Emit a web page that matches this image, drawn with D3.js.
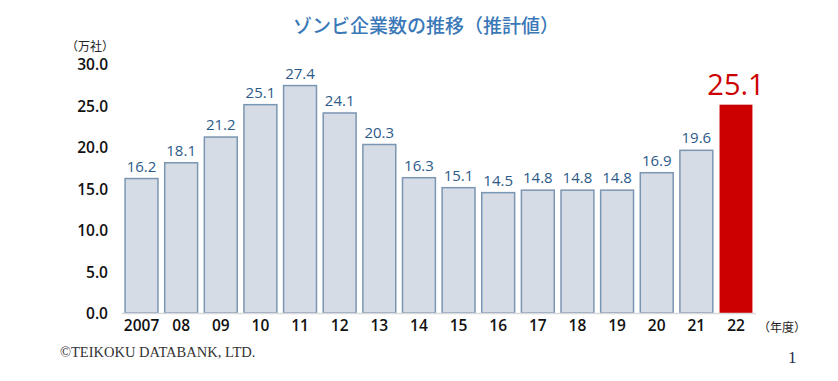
<!DOCTYPE html>
<html>
<head>
<meta charset="utf-8">
<script src="https://cdn.jsdelivr.net/npm/d3@7"></script>
<style>
  body { margin: 0; background: #fff; }
  svg { display: block; }
</style>
</head>
<body>
<div id="main"></div>
<script>
// Chart data
var years = ['2007', '08', '09', '10', '11', '12', '13', '14', '15', '16', '17', '18', '19', '20', '21', '22'];
var counts = [16.2, 18.1, 21.2, 25.1, 27.4, 24.1, 20.3, 16.3, 15.1, 14.5, 14.8, 14.8, 14.8, 16.9, 19.6, 25.1];
var yTicks = [0, 5, 10, 15, 20, 25, 30];

var svgWidth = 838;
var svgHeight = 381;

var svg = d3.select('#main')
	.append('svg')
	.attr('width', svgWidth)
	.attr('height', svgHeight);

var numFont = '"Open Sans", "Noto Sans", sans-serif';
var jpFont = '"Noto Sans CJK JP", sans-serif';

var xScale = d3.scaleBand()
	.domain(years)
	.range([121.7, 755.8])
	.paddingInner(0.17)
	.paddingOuter(0.085);

var yScale = d3.scaleLinear()
	.domain([0, 30])
	.range([313, 64]);

// title
svg.append('text')
	.attr('x', 426)
	.attr('y', 33)
	.attr('text-anchor', 'middle')
	.style('font-family', jpFont)
	.style('font-size', '19px')
	.style('font-weight', '500')
	.style('fill', '#3a78b8')
	.text('ゾンビ企業数の推移（推計値）');

// y-axis unit
svg.append('text')
	.attr('x', 66)
	.attr('y', 51)
	.style('font-family', jpFont)
	.style('font-size', '12px')
	.style('fill', '#222')
	.text('（万社）');

// y tick labels (no axis line)
var yAxis = d3.axisLeft(yScale)
	.tickValues(yTicks)
	.tickSize(0)
	.tickPadding(0)
	.tickFormat(d3.format('.1f'));

var yG = svg.append('g')
	.attr('transform', 'translate(108, 1)')
	.call(yAxis);
yG.select('.domain').remove();
yG.selectAll('text')
	.style('font-family', numFont)
	.style('font-size', '15.5px')
	.style('font-weight', '600')
	.style('fill', '#111');

// bars
svg.selectAll('.bar')
	.data(counts)
	.enter()
	.append('rect')
	.attr('class', 'bar')
	.attr('x', function(d, i) { return xScale(years[i]); })
	.attr('width', xScale.bandwidth())
	.attr('y', function(d) { return yScale(d); })
	.attr('height', function(d) { return yScale(0) - yScale(d); })
	.style('fill', function(d, i) { return i === counts.length - 1 ? '#cc0000' : '#d6dce5'; })
	.style('stroke', function(d, i) { return i === counts.length - 1 ? 'none' : '#7b96b2'; })
	.style('stroke-width', 1.5);

// baseline
var xAxis = d3.axisBottom(xScale).tickSize(0).tickPadding(7);
var xG = svg.append('g')
	.attr('transform', 'translate(0, ' + yScale(0) + ')')
	.call(xAxis);
xG.select('.domain')
	.attr('d', 'M121.7,0.5H755.8')
	.style('stroke', '#d9d9d9')
	.style('stroke-width', 1.5);
xG.selectAll('text')
	.style('font-family', numFont)
	.style('font-size', '15.5px')
	.style('font-weight', '600')
	.style('fill', '#111');

// value labels
svg.selectAll('.value')
	.data(counts)
	.enter()
	.append('text')
	.attr('class', 'value')
	.attr('x', function(d, i) { return xScale(years[i]) + xScale.bandwidth() / 2; })
	.attr('y', function(d, i) { return yScale(d) - (i === counts.length - 1 ? 10 : 7); })
	.attr('text-anchor', 'middle')
	.style('font-family', numFont)
	.style('font-size', function(d, i) { return i === counts.length - 1 ? '29px' : '15px'; })
	.style('font-weight', function(d, i) { return i === counts.length - 1 ? '400' : '500'; })
	.style('fill', function(d, i) { return i === counts.length - 1 ? '#cc0000' : '#2c5a88'; })
	.text(function(d) { return d3.format('.1f')(d); });

// x unit
svg.append('text')
	.attr('x', 758)
	.attr('y', 332)
	.style('font-family', jpFont)
	.style('font-size', '12px')
	.style('fill', '#222')
	.text('（年度）');

// footer
svg.append('text')
	.attr('x', 60)
	.attr('y', 357)
	.style('font-family', '"Liberation Serif", serif')
	.style('font-size', '14.5px')
	.style('fill', '#333')
	.text('©TEIKOKU DATABANK, LTD.');

svg.append('text')
	.attr('x', 788)
	.attr('y', 363)
	.style('font-family', '"Liberation Serif", serif')
	.style('font-size', '17px')
	.style('fill', '#1f2d4a')
	.text('1');
</script>
</body>
</html>
